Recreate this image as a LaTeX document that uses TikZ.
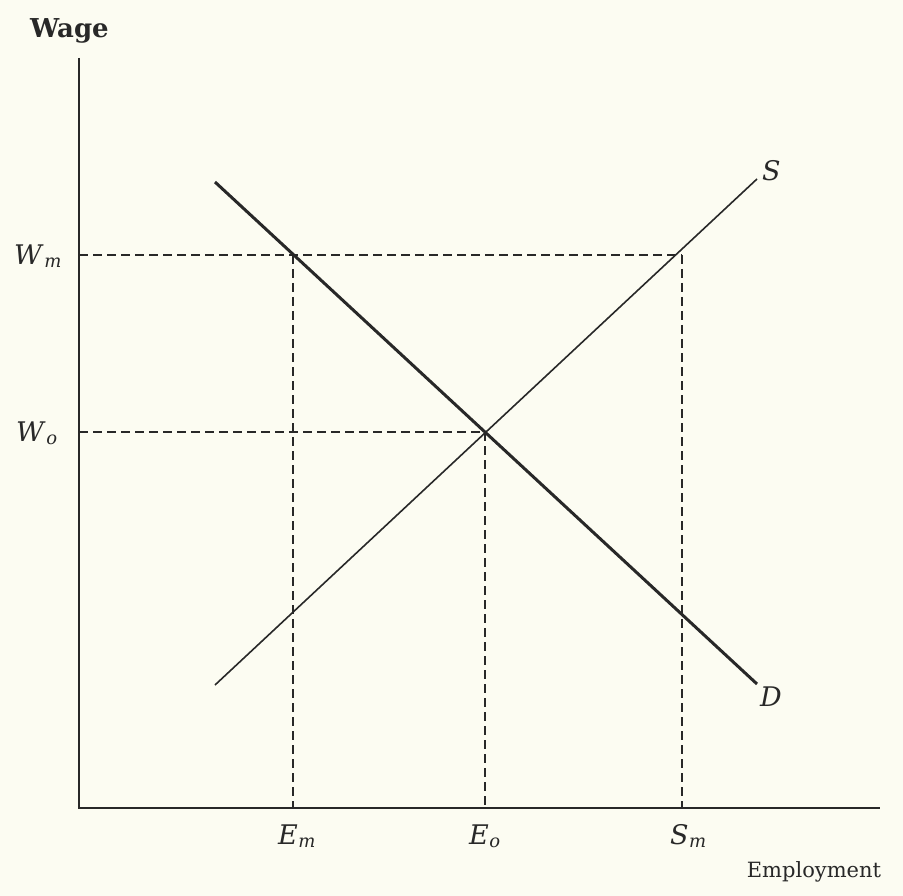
\documentclass[tikz,border=0pt]{standalone}
\usepackage{fontspec}
\setmainfont{DejaVu Serif}
\usepackage{tikz}
\definecolor{paper}{RGB}{252,252,242}
\definecolor{ink}{RGB}{40,40,40}
\newcommand{\sublab}[2]{\textit{#1}\kern0.5pt\raisebox{-3pt}{\fontsize{18}{20}\selectfont\textit{#2}}}
\begin{document}
\begin{tikzpicture}[x=1pt,y=-1pt,
  axis/.style={draw=ink,line width=2.6pt},
  demand/.style={draw=ink,line width=3pt},
  supply/.style={draw=ink,line width=1.6pt},
  guide/.style={draw=ink,line width=1.6pt,dash pattern=on 9pt off 5pt},
  lab/.style={font=\fontsize{27}{30}\selectfont,text=ink,inner sep=0pt,anchor=base west}]
\fill[paper] (0,0) rectangle (903,896);
\useasboundingbox (0,0) rectangle (903,896);
\coordinate (top) at (79,58);
\coordinate (O) at (79,808);
\coordinate (right) at (880,808);
\coordinate (D1) at (215,182);
\coordinate (D2) at (757,684);
\coordinate (S1) at (215,685);
\coordinate (S2) at (757,179);
\coordinate (E) at (485,432);
\coordinate (Wm) at (79,255);
\coordinate (Wo) at (79,432);
\coordinate (A) at (293,255);
\coordinate (B) at (682,255);
\coordinate (Em) at (293,808);
\coordinate (Eo) at (485,808);
\coordinate (Sm) at (682,808);
\draw[guide] (Wm) -- (B);
\draw[guide] (Wo) -- (E);
\draw[guide] (A) -- (Em);
\draw[guide] (E) -- (Eo);
\draw[guide] (B) -- (Sm);
\draw[axis] (top) -- (O) -- (right);
\draw[supply] (S1) -- (S2);
\draw[demand] (D1) -- (D2);
\node[lab,font=\fontsize{26}{29}\selectfont\bfseries] (wage) at (30,38) {Wage};
\node[lab] (wm) at (14,265) {\sublab{W}{m}};
\node[lab] (wo) at (16,441) {\sublab{W}{o}};
\node[lab] (em) at (278,844) {\sublab{E}{m}};
\node[lab] (eo) at (469,844) {\sublab{E}{o}};
\node[lab] (sm) at (670,844) {\sublab{S}{m}};
\node[lab,font=\fontsize{21}{24}\selectfont,anchor=base] (emp) at (814,877) {Employment};
\node[lab] (s) at (762,181) {\textit{S}};
\node[lab] (d) at (760,706) {\textit{D}};
\end{tikzpicture}
\end{document}
